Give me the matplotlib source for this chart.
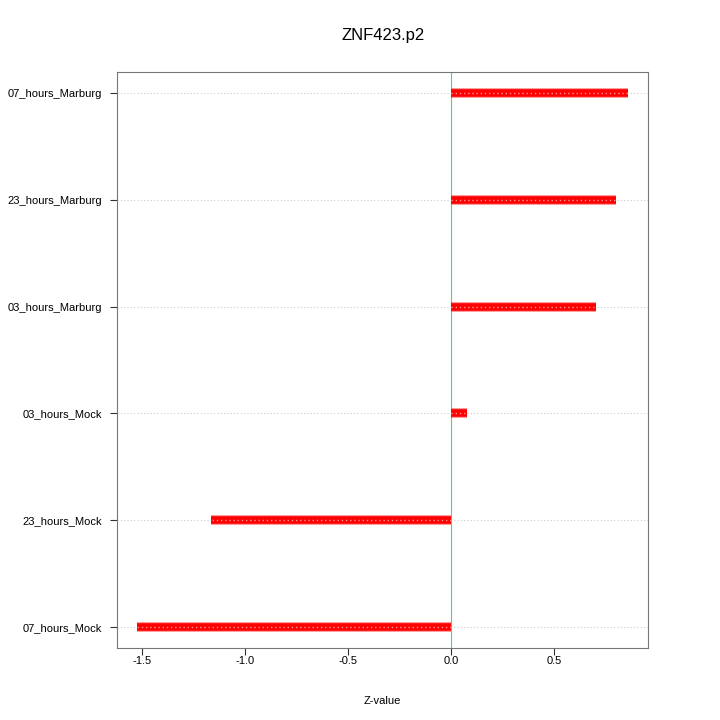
import matplotlib
matplotlib.use("Agg")
import matplotlib.pyplot as plt

# data
labels = ["07_hours_Mock", "23_hours_Mock", "03_hours_Mock",
          "03_hours_Marburg", "23_hours_Marburg", "07_hours_Marburg"]
zvalues = [-1.525, -1.163, 0.078, 0.703, 0.800, 0.858]
xticks = [-1.5, -1.0, -0.5, 0.0, 0.5]

plt.rcParams['font.family'] = ['Liberation Sans', 'DejaVu Sans']

fig = plt.figure(figsize=(7.2, 7.2), dpi=100)
ax = fig.add_axes([0.1625, 0.1, 0.7375, 0.8])

ypos = list(range(len(labels)))

# gridlines
for y in ypos:
    ax.axhline(y, color='#cccccc', lw=0.8, ls=(0, (1, 2)), zorder=1)

# zero line
ax.axvline(0, color='#66cc66', lw=0.8, zorder=2)

# bars as thick lines
for y, v in zip(ypos, zvalues):
    ax.plot([0, v], [y, y], color='#ff2020', lw=7, solid_capstyle='butt', zorder=3, alpha=0.5)
    ax.plot([0, v], [y, y], color='#ff0000', lw=5.5, solid_capstyle='butt', zorder=4)
    ax.plot([0, v], [y, y], color='#ff9090', lw=1, ls=(0, (1, 2)), zorder=5)

ax.set_xlim(-1.621, 0.956)
ax.set_ylim(-0.2, 5.2)
ax.set_yticks(ypos)
ax.set_yticklabels(labels, fontsize=8)
ax.set_xticks(xticks)
ax.set_xticklabels(["-1.5", "-1.0", "-0.5", "0.0", "0.5"], fontsize=8)
ax.tick_params(length=5, color='#333333', pad=6)
ax.tick_params(axis='x', pad=1)
for s in ax.spines.values():
    s.set_color('#777777')
    s.set_linewidth(0.8)

ax.set_xlabel("Z-value", fontsize=8, labelpad=21)
fig.text(0.532, 0.951, "ZNF423.p2", fontsize=12, ha='center', va='center')

fig.savefig("out.png", dpi=100)
